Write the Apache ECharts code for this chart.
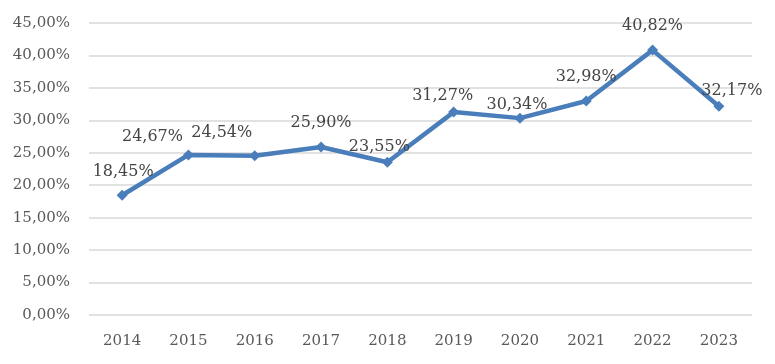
<!DOCTYPE html>
<html>
<head>
<meta charset="utf-8">
<script src="https://cdn.jsdelivr.net/npm/echarts@6/dist/echarts.min.js"></script>
<style>html,body{margin:0;padding:0;background:#fff;}#c{width:775px;height:364px;}</style>
</head>
<body>
<div id="c"></div>
<script>
var years = ['2014','2015','2016','2017','2018','2019','2020','2021','2022','2023'];
var values = [18.45, 24.67, 24.54, 25.90, 23.55, 31.27, 30.34, 32.98, 40.82, 32.17];
var labelOffsets = [[1,-5],[-36,0],[-33,-4],[0,-6],[-8,3],[-11,2],[-3,5],[0,-6],[0,-6],[13,3]];

function fmt(v){ return v.toFixed(2).replace('.', ',') + '%'; }

var font = 'DejaVu Serif';
var chart = echarts.init(document.getElementById('c'));
chart.setOption({
  animation: false,
  grid: {left: 89, right: 23, top: 23, bottom: 49},
  xAxis: {
    type: 'category',
    data: years,
    axisLine: {show: false},
    axisTick: {show: false},
    axisLabel: {fontFamily: font, fontSize: 15, color: '#595959', margin: 19}
  },
  yAxis: {
    type: 'value',
    min: 0, max: 45, interval: 5,
    axisLine: {show: false},
    axisTick: {show: false},
    splitLine: {lineStyle: {color: '#d9d9d9', width: 1.5}},
    axisLabel: {fontFamily: font, fontSize: 15, color: '#595959', margin: 19,
      formatter: function(v){ return fmt(v); }}
  },
  series: [{
    type: 'line',
    data: values.map(function(v, i){
      return {value: v, label: {offset: labelOffsets[i]}};
    }),
    symbol: 'diamond',
    symbolSize: 11,
    lineStyle: {color: '#4a7ebb', width: 4.5},
    itemStyle: {color: '#4a7ebb'},
    label: {show: true, position: 'top', fontFamily: font, fontSize: 16, color: '#454545',
      formatter: function(p){ return fmt(p.value); }}
  }]
});
</script>
</body>
</html>
